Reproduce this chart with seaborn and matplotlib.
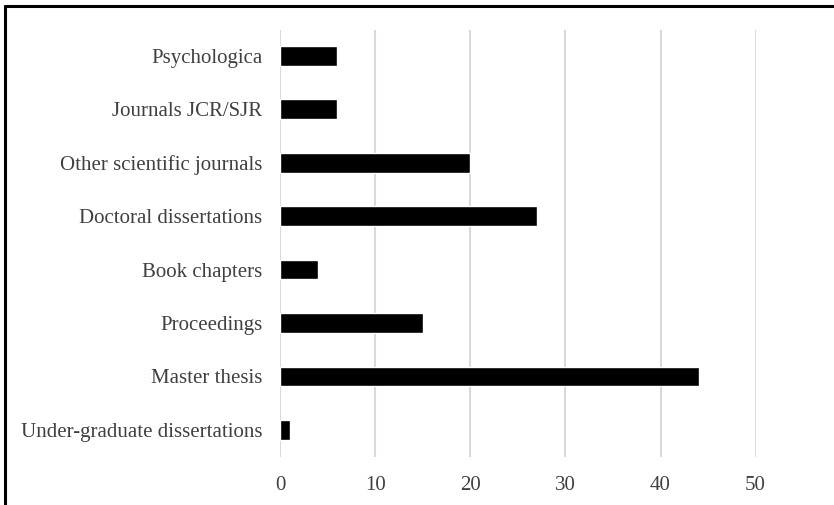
import pandas as pd
import matplotlib.pyplot as plt
import seaborn as sns

categories = ['Psychologica', 'Journals JCR/SJR', 'Other scientific journals',
              'Doctoral dissertations', 'Book chapters', 'Proceedings',
              'Master thesis', 'Under-graduate dissertations']
counts = [6, 6, 20, 27, 4, 15, 44, 1]
x_ticks = [0, 10, 20, 30, 40, 50]

df = pd.DataFrame({'category': categories, 'count': counts})

sns.set_theme(style='white')
plt.rcParams['font.family'] = ['Liberation Serif', 'DejaVu Serif']

fig = plt.figure(figsize=(8.34, 5.05), dpi=100)
ax = fig.add_axes([0.336, 0.096, 0.570, 0.844])

sns.barplot(data=df, x='count', y='category', color='black', width=0.37,
            saturation=1, ax=ax, zorder=3)

ax.set_xlim(0, 50)
ax.set_xticks(x_ticks)
ax.set_ylim(len(categories) - 0.5, -0.48)
ax.xaxis.grid(True, color='#d9d9d9', linewidth=1.5, zorder=0)
ax.yaxis.grid(False)
for s in ax.spines.values():
    s.set_visible(False)
ax.set_xlabel('')
ax.set_ylabel('')
ax.tick_params(axis='y', length=0, pad=13, labelsize=15, labelcolor='#404040')
ax.tick_params(axis='x', length=0, pad=14, labelsize=15, labelcolor='#404040')

# cropped frame, only left and top edges show
fig.add_artist(plt.Line2D([0.006, 0.006], [0, 0.988], color='black', linewidth=2.2,
                          transform=fig.transFigure))
fig.add_artist(plt.Line2D([0.006, 1], [0.988, 0.988], color='black', linewidth=2.2,
                          transform=fig.transFigure))

fig.savefig('out.png', dpi=100)
